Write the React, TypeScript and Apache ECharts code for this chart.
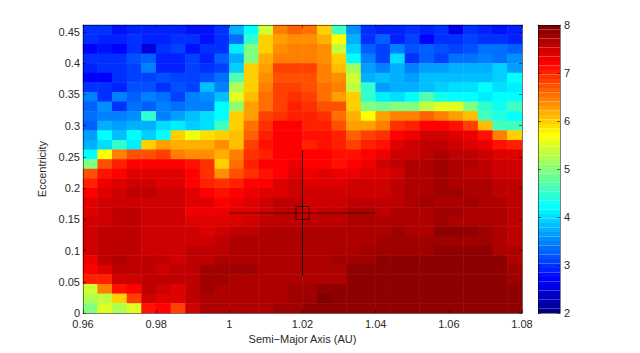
import React, { useEffect, useRef } from "react";
import * as echarts from "echarts";

// Mean value per cell: first row is the top of the plot (highest eccentricity), columns run left to right.
const rows: number[][] = [
  [3.0,2.95,2.8,2.85,2.85,2.85,2.85,2.8,2.8,3.0,3.7,4.2,5.45,6.5,6.6,6.55,6.0,4.6,3.55,2.95,2.9,2.85,2.95,2.85,3.0,2.65,3.0,2.9,2.8,2.9],
  [2.95,2.9,2.9,2.95,2.9,2.85,2.95,3.0,2.8,3.0,3.4,4.45,6.0,6.25,6.35,6.35,6.2,5.75,3.75,3.0,3.25,2.85,3.05,2.7,2.95,2.95,3.1,2.95,3.0,2.85],
  [2.7,2.8,2.7,3.0,2.55,2.95,3.05,2.8,2.95,3.0,4.1,5.0,6.0,6.4,6.45,6.5,6.4,5.35,3.95,3.3,3.1,3.45,3.2,3.25,3.15,3.1,3.15,3.4,3.4,3.3],
  [2.95,3.0,2.95,3.2,3.25,2.85,2.85,3.1,2.85,3.25,3.75,5.0,6.2,6.45,6.5,6.45,6.35,5.95,4.2,3.45,3.1,4.05,3.0,3.3,3.1,3.35,3.4,3.5,3.35,3.55],
  [2.85,3.0,2.95,3.05,3.45,2.85,2.9,3.1,2.95,3.05,3.95,6.0,6.3,6.8,6.8,6.8,6.5,6.05,5.1,3.6,3.5,3.7,3.5,3.6,3.65,3.7,3.7,3.75,3.9,3.6],
  [2.75,2.75,2.95,3.1,3.1,3.15,3.05,3.1,3.2,3.4,4.7,6.0,6.4,6.7,6.75,6.7,6.5,6.4,5.45,3.7,3.8,3.7,3.6,3.85,3.85,3.85,3.85,3.8,3.95,4.2],
  [3.0,2.95,2.85,3.15,3.15,3.0,3.2,3.05,3.8,3.45,5.25,6.0,6.5,6.8,6.8,6.75,6.55,6.45,5.3,4.45,3.65,3.7,3.7,3.85,3.95,4.0,4.05,4.2,4.05,4.1],
  [3.5,3.0,3.5,3.3,3.5,3.4,3.05,3.5,3.55,3.85,5.55,6.05,6.55,6.85,6.9,6.8,6.55,6.3,6.0,4.5,4.15,4.0,4.25,4.7,4.3,4.25,4.25,4.1,4.2,4.25],
  [3.3,3.55,3.0,3.35,3.25,3.5,3.4,3.5,3.5,4.2,5.05,6.25,6.55,6.85,7.0,6.95,6.75,6.75,6.0,5.0,4.85,5.0,5.0,5.35,5.5,5.5,4.95,4.5,4.3,4.55],
  [3.35,3.5,3.5,3.55,4.5,3.45,3.6,3.8,4.0,4.2,6.0,6.3,6.85,6.95,7.05,7.0,6.9,6.55,6.2,5.75,6.25,6.5,6.5,6.65,6.5,6.3,6.05,4.6,4.35,4.2],
  [3.25,3.75,3.6,3.75,3.7,4.05,4.15,3.95,4.0,4.55,6.0,6.55,6.9,7.2,7.2,7.05,7.0,6.7,6.3,6.25,6.5,6.9,7.0,7.25,7.2,7.1,6.85,6.1,4.55,4.55],
  [3.6,4.2,3.85,4.2,3.95,4.25,5.95,5.6,5.9,6.0,6.05,6.6,7.0,7.2,7.25,7.15,7.15,7.05,6.6,6.85,6.95,7.25,7.3,7.5,7.45,7.4,7.3,7.15,6.45,5.95],
  [3.7,4.05,4.5,4.15,5.95,6.25,6.2,6.2,6.2,6.35,6.05,6.85,7.15,7.2,7.25,7.05,7.1,7.05,6.85,7.05,7.1,7.35,7.5,7.6,7.55,7.5,7.4,7.3,7.1,7.0],
  [4.2,5.75,6.5,6.75,6.75,6.8,6.5,6.35,6.35,6.2,6.5,6.95,7.05,7.2,7.25,7.25,7.2,7.1,7.1,7.25,7.3,7.5,7.5,7.6,7.65,7.55,7.55,7.45,7.35,7.35],
  [5.0,6.7,7.0,7.25,7.25,7.2,7.2,7.1,6.9,5.95,6.55,7.0,7.2,7.25,7.3,7.25,7.2,7.15,7.25,7.3,7.45,7.55,7.65,7.65,7.8,7.65,7.65,7.6,7.45,7.45],
  [6.75,7.1,7.2,7.4,7.4,7.4,7.35,7.25,6.9,6.4,6.7,6.95,7.1,7.25,7.35,7.3,7.35,7.3,7.3,7.35,7.4,7.5,7.65,7.7,7.75,7.7,7.6,7.6,7.5,7.45],
  [7.05,7.3,7.35,7.45,7.45,7.4,7.4,7.25,7.0,6.9,7.0,7.25,7.25,7.4,7.5,7.35,7.4,7.4,7.45,7.45,7.5,7.6,7.7,7.7,7.75,7.7,7.65,7.65,7.55,7.55],
  [7.25,7.4,7.45,7.55,7.55,7.45,7.5,7.35,7.25,7.15,7.2,7.3,7.4,7.4,7.5,7.45,7.5,7.5,7.5,7.5,7.5,7.55,7.65,7.65,7.75,7.75,7.65,7.65,7.6,7.55],
  [7.4,7.45,7.5,7.5,7.5,7.45,7.5,7.35,7.35,7.25,7.3,7.4,7.45,7.55,7.55,7.5,7.5,7.5,7.55,7.6,7.6,7.6,7.65,7.75,7.7,7.7,7.75,7.65,7.65,7.6],
  [7.4,7.45,7.55,7.55,7.5,7.5,7.5,7.3,7.3,7.3,7.35,7.4,7.45,7.55,7.55,7.5,7.55,7.55,7.7,7.7,7.6,7.65,7.65,7.7,7.75,7.75,7.7,7.7,7.65,7.6],
  [7.45,7.5,7.6,7.6,7.5,7.5,7.45,7.4,7.35,7.35,7.4,7.45,7.55,7.6,7.6,7.6,7.6,7.6,7.65,7.65,7.65,7.65,7.7,7.7,7.75,7.7,7.7,7.7,7.65,7.6],
  [7.45,7.55,7.6,7.6,7.5,7.5,7.5,7.45,7.4,7.45,7.55,7.6,7.65,7.65,7.7,7.65,7.65,7.65,7.7,7.7,7.65,7.8,7.7,7.7,7.85,7.85,7.85,7.75,7.7,7.6],
  [7.45,7.55,7.6,7.6,7.5,7.5,7.5,7.5,7.5,7.55,7.65,7.65,7.7,7.7,7.7,7.7,7.7,7.7,7.7,7.7,7.75,7.75,7.75,7.75,7.75,7.8,7.8,7.8,7.7,7.6],
  [7.45,7.55,7.6,7.6,7.5,7.5,7.5,7.55,7.6,7.6,7.65,7.65,7.65,7.7,7.7,7.7,7.7,7.7,7.7,7.8,7.8,7.8,7.8,7.8,7.85,7.85,7.85,7.85,7.7,7.65],
  [7.3,7.6,7.65,7.55,7.55,7.55,7.5,7.55,7.6,7.65,7.7,7.65,7.65,7.65,7.65,7.7,7.7,7.75,7.75,7.8,7.85,7.85,7.85,7.85,7.85,7.85,7.85,7.85,7.85,7.7],
  [7.25,7.4,7.55,7.55,7.55,7.5,7.55,7.6,7.75,7.75,7.75,7.75,7.7,7.7,7.7,7.7,7.7,7.7,7.85,7.85,7.85,7.85,7.85,7.85,7.85,7.85,7.85,7.85,7.85,7.75],
  [7.0,7.0,7.45,7.45,7.55,7.55,7.55,7.6,7.75,7.75,7.7,7.7,7.7,7.7,7.7,7.7,7.7,7.7,7.85,7.85,7.85,7.85,7.85,7.85,7.85,7.85,7.85,7.85,7.85,7.75],
  [5.45,6.45,7.1,7.25,7.55,7.45,7.4,7.6,7.75,7.7,7.7,7.7,7.7,7.7,7.8,7.8,7.85,7.85,7.85,7.85,7.85,7.85,7.85,7.85,7.85,7.85,7.85,7.85,7.85,7.85],
  [5.2,5.35,6.0,6.85,7.45,7.4,7.35,7.55,7.7,7.65,7.7,7.7,7.7,7.7,7.8,7.8,7.95,7.85,7.9,7.9,7.9,7.9,7.9,7.9,7.9,7.9,7.9,7.9,7.9,7.85],
  [5.0,5.5,5.2,5.5,7.1,7.2,6.85,7.45,7.7,7.65,7.65,7.7,7.7,7.75,7.75,7.9,7.9,7.9,7.9,7.9,7.9,7.9,7.9,7.9,7.9,7.9,7.9,7.85,7.9,7.9],
];

const xRange = [0.96, 1.08];
const yRange = [0, 0.4608];
const colorRange = [2, 8];
const crossH = [[1.0, 0.16], [1.04, 0.16]];
const crossV = [[1.02, 0.06], [1.02, 0.26]];
const crossCentre = [[1.02, 0.16]];
const xTitle = "Semi\u2212Major Axis (AU)";
const yTitle = "Eccentricity";

// MATLAB "jet" colormap, 64 levels
const jet64 = [
  "#00008f","#00009f","#0000af","#0000bf","#0000cf","#0000df","#0000ef","#0000ff",
  "#0010ff","#0020ff","#0030ff","#0040ff","#0050ff","#0060ff","#0070ff","#0080ff",
  "#008fff","#009fff","#00afff","#00bfff","#00cfff","#00dfff","#00efff","#00ffff",
  "#10ffef","#20ffdf","#30ffcf","#40ffbf","#50ffaf","#60ff9f","#70ff8f","#80ff80",
  "#8fff70","#9fff60","#afff50","#bfff40","#cfff30","#dfff20","#efff10","#ffff00",
  "#ffef00","#ffdf00","#ffcf00","#ffbf00","#ffaf00","#ff9f00","#ff8f00","#ff8000",
  "#ff7000","#ff6000","#ff5000","#ff4000","#ff3000","#ff2000","#ff1000","#ff0000",
  "#ef0000","#df0000","#cf0000","#bf0000","#af0000","#9f0000","#8f0000","#800000",
];

const FONT = "Liberation Sans";
const TEXT = "#2a2a2a";
const EDGE = "rgba(0,0,0,0.5)";
const PLOT = { left: 83, top: 25, width: 439, height: 288 };
const BAR = { left: 538, top: 25, width: 22, height: 288 };

export default function App() {
  const ref = useRef<HTMLDivElement>(null);
  useEffect(() => {
    const chart = echarts.init(ref.current!, undefined, { renderer: "svg" });
    const n = rows.length;
    const data: number[][] = [];
    rows.forEach((r, t) => r.forEach((v, c) => data.push([c, n - 1 - t, v])));
    const xCats = rows[0].map((_, i) => String(i));
    const yCats = rows.map((_, i) => String(i));
    const line = (d: number[][], opacity: number) => ({
      type: "line", xAxisIndex: 1, yAxisIndex: 1, data: d, symbol: "none", z: 6, silent: true,
      lineStyle: { color: "#000", width: 1, opacity },
    });
    const tick = { show: true, inside: true, length: 3, lineStyle: { color: EDGE, width: 1 } };
    const edge = { show: true, onZero: false, lineStyle: { color: EDGE, width: 1 } };
    const label = { fontFamily: FONT, fontSize: 11, color: TEXT };
    const hiddenCat = (d: string[], gridIndex: number) => ({
      type: "category", data: d, gridIndex, show: false, boundaryGap: true,
    });
    chart.setOption({
      animation: false,
      backgroundColor: "#fff",
      grid: [
        { ...PLOT },
        { ...PLOT },
        { ...BAR },
      ],
      visualMap: {
        type: "piecewise",
        min: colorRange[0],
        max: colorRange[1],
        splitNumber: 64,
        seriesIndex: 0,
        orient: "vertical",
        left: BAR.left,
        top: BAR.top,
        padding: 0,
        itemWidth: BAR.width,
        itemHeight: 4.5,
        itemGap: 0,
        itemSymbol: "rect",
        showLabel: false,
        selectedMode: false,
        hoverLink: false,
        inRange: { color: jet64 },
        outOfRange: { color: "#800000" },
      },
      xAxis: [
        hiddenCat(xCats, 0),
        {
          type: "value", gridIndex: 1, min: xRange[0], max: xRange[1], interval: 0.02, z: 10,
          position: "bottom", axisLine: edge, axisTick: tick, splitLine: { show: false },
          axisLabel: { ...label, margin: 6, lineHeight: 9, formatter: (v: number) => String(+v.toFixed(2)) },
          name: xTitle, nameLocation: "middle", nameGap: 16,
          nameTextStyle: { ...label },
        },
        {
          type: "value", gridIndex: 1, min: xRange[0], max: xRange[1], interval: 0.02, z: 10,
          position: "top", axisLine: edge, axisTick: tick, axisLabel: { show: false }, splitLine: { show: false },
        },
        {
          type: "value", gridIndex: 2, min: 0, max: 1, position: "bottom", z: 10,
          axisLine: edge, axisTick: { show: false }, axisLabel: { show: false }, splitLine: { show: false },
        },
        {
          type: "value", gridIndex: 2, min: 0, max: 1, position: "top", z: 10,
          axisLine: edge, axisTick: { show: false }, axisLabel: { show: false }, splitLine: { show: false },
        },
      ],
      yAxis: [
        hiddenCat(yCats, 0),
        {
          type: "value", gridIndex: 1, min: yRange[0], max: yRange[1], interval: 0.05, z: 10,
          position: "left", axisLine: edge, axisTick: tick, splitLine: { show: false },
          axisLabel: { ...label, margin: 3, lineHeight: 9, showMaxLabel: false, formatter: (v: number) => String(+v.toFixed(2)) },
          name: yTitle, nameLocation: "middle", nameGap: 23, nameRotate: 90,
          nameTextStyle: { ...label },
        },
        {
          type: "value", gridIndex: 1, min: yRange[0], max: yRange[1], interval: 0.05, z: 10,
          position: "right", axisLine: edge, axisTick: tick, axisLabel: { show: false }, splitLine: { show: false },
        },
        {
          type: "value", gridIndex: 2, min: colorRange[0], max: colorRange[1], interval: 1, z: 10,
          position: "right", axisLine: edge, axisTick: tick, splitLine: { show: false },
          axisLabel: { ...label, margin: 4 },
        },
        {
          type: "value", gridIndex: 2, min: colorRange[0], max: colorRange[1], interval: 1, z: 10,
          position: "left", axisLine: edge, axisTick: tick, axisLabel: { show: false }, splitLine: { show: false },
        },
      ],
      series: [
        { type: "heatmap", xAxisIndex: 0, yAxisIndex: 0, data, silent: true, progressive: 0 },
        line(crossH, 0.6),
        line(crossV, 0.85),
        {
          type: "scatter", xAxisIndex: 1, yAxisIndex: 1, data: crossCentre, symbol: "rect", symbolSize: 13, z: 6,
          silent: true, itemStyle: { color: "transparent", borderColor: "rgba(0,0,0,0.8)", borderWidth: 1 },
        },
      ],
    });
    return () => chart.dispose();
  }, []);
  return (
    <div ref={ref} style={{ position: "fixed", left: 0, top: 0, width: 640, height: 353 }} />
  );
}
